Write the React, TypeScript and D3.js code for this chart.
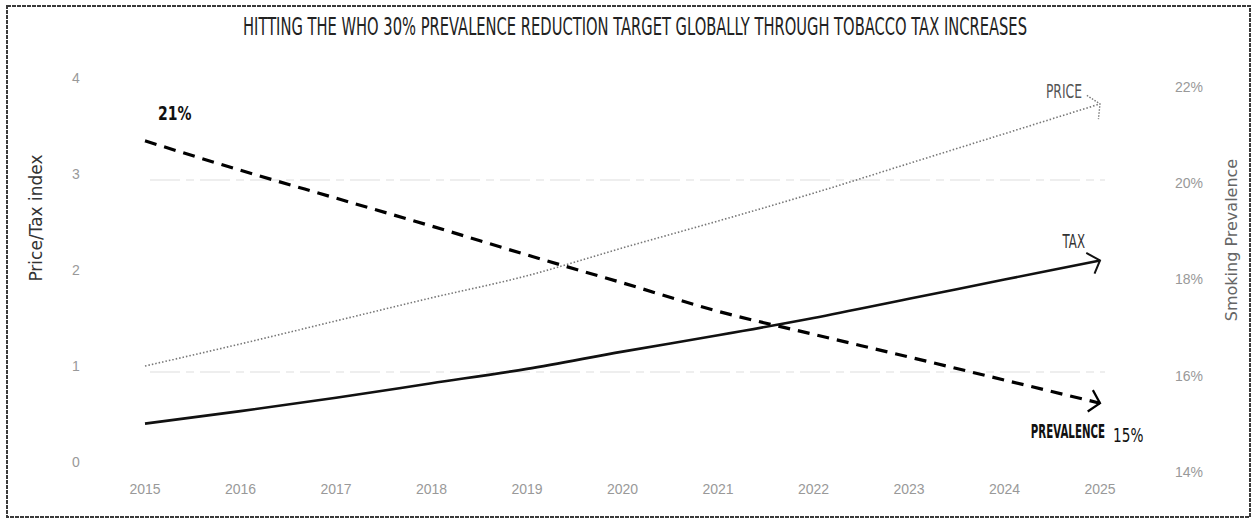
import * as d3 from "d3";
import * as React from "react";

const years = [2015, 2016, 2017, 2018, 2019, 2020, 2021, 2022, 2023, 2024, 2025];
const price = [1.0, 1.23, 1.47, 1.71, 1.94, 2.23, 2.51, 2.8, 3.11, 3.42, 3.73];
const tax = [0.4, 0.53, 0.67, 0.82, 0.97, 1.15, 1.32, 1.5, 1.7, 1.9, 2.1];
const prevalence = [20.88, 20.27, 19.69, 19.11, 18.51, 17.93, 17.34, 16.86, 16.39, 15.91, 15.43];
const leftTicks = [0, 1, 2, 3, 4];
const rightTicks = [14, 16, 18, 20, 22];
const gridTicks = [1, 3];

const title = "HITTING THE WHO 30% PREVALENCE REDUCTION TARGET GLOBALLY THROUGH TOBACCO TAX INCREASES";
const narrow = "'DejaVu Sans', sans-serif";
const plain = "'Liberation Sans', Arial, sans-serif";

// condensed look: no narrow font installed, so squeeze horizontally
function Squeezed(props: { x: number; y: number; sx: number; anchor?: string; size: number; bold?: boolean; fill: string; children: string }) {
  const { x, y, sx, anchor, size, bold, fill, children } = props;
  return (
    <g transform={"translate(" + x + "," + y + ") scale(" + sx + ",1)"}>
      <text x={0} y={0} textAnchor={anchor || "start"} fontFamily={narrow} fontSize={size} fontWeight={bold ? "bold" : "normal"} fill={fill}>{children}</text>
    </g>
  );
}

export default function App() {
  const width = 1254;
  const height = 521;

  const x = d3.scaleLinear().domain([2015, 2025]).range([145, 1100]);
  const yLeft = d3.scaleLinear().domain([0, 4]).range([462, 78]);
  const yRight = d3.scaleLinear().domain([14, 22]).range([472, 87]);

  const lineLeft = d3.line<number>().x((d, i) => x(years[i])).y((d) => yLeft(d)).curve(d3.curveMonotoneX);
  const lineRight = d3.line<number>().x((d, i) => x(years[i])).y((d) => yRight(d)).curve(d3.curveMonotoneX);

  const last = years.length - 1;
  const xEnd = x(years[last]);

  return (
    <svg width={width} height={height} style={{ position: "absolute", left: 0, top: 0, background: "#fff" }}>
      <defs>
        <marker id="arrowBlack" viewBox="-14 -14 16 28" markerWidth={16} markerHeight={28} markerUnits="userSpaceOnUse" refX={0} refY={0} orient="auto">
          <path d="M-10,-11 L0,0 L-10,11" fill="none" stroke="#000" strokeWidth={2.2} />
        </marker>
        <marker id="arrowTax" viewBox="-14 -14 16 28" markerWidth={16} markerHeight={28} markerUnits="userSpaceOnUse" refX={0} refY={0} orient="auto">
          <path d="M-12,-10 L0,0 L-8,12" fill="none" stroke="#111" strokeWidth={2} />
        </marker>
        <marker id="arrowGray" viewBox="-14 -16 16 32" markerWidth={16} markerHeight={32} markerUnits="userSpaceOnUse" refX={0} refY={0} orient="auto">
          <path d="M-10,-12 L0,0 L-6,14" fill="none" stroke="#777" strokeWidth={1.4} strokeDasharray="1.5,1.5" />
        </marker>
      </defs>

      {/* frame */}
      <rect x={7} y={6} width={1243} height={511} fill="none" stroke="#3a3a3a" strokeWidth={2} strokeDasharray="4,1" />

      {/* title */}
      <Squeezed x={635} y={35} sx={0.588} anchor="middle" size={25} fill="#222">{title}</Squeezed>

      {/* gridlines */}
      {gridTicks.map((t) => (
        <line key={"g" + t} x1={150} x2={1105} y1={yLeft(t) + 6} y2={yLeft(t) + 6} stroke="#eeeeee" strokeWidth={2} strokeDasharray="30,6,8,6" />
      ))}

      {/* left axis */}
      {leftTicks.map((t) => (
        <text key={"l" + t} x={76} y={yLeft(t)} dy="0.35em" textAnchor="middle" fontFamily={plain} fontSize={14} fill="#999">{t}</text>
      ))}
      <text transform="translate(42,218) rotate(-90)" textAnchor="middle" fontFamily={narrow} fontSize={17} fill="#333">Price/Tax index</text>

      {/* right axis */}
      {rightTicks.map((t) => (
        <text key={"r" + t} x={1189} y={yRight(t)} dy="0.35em" textAnchor="middle" fontFamily={plain} fontSize={14} fill="#999">{t + "%"}</text>
      ))}
      <text transform="translate(1237,240) rotate(-90)" textAnchor="middle" fontFamily={narrow} fontSize={16} fill="#666">Smoking Prevalence</text>

      {/* x axis */}
      {years.map((yr) => (
        <text key={"x" + yr} x={x(yr)} y={489} dy="0.35em" textAnchor="middle" fontFamily={plain} fontSize={14} fill="#999">{yr}</text>
      ))}

      {/* series */}
      <path d={lineLeft(price) as string} fill="none" stroke="#777" strokeWidth={1.6} strokeDasharray="1.5,2" markerEnd="url(#arrowGray)" />
      <path d={lineLeft(tax) as string} fill="none" stroke="#111" strokeWidth={2.6} markerEnd="url(#arrowTax)" />
      <path d={lineRight(prevalence) as string} fill="none" stroke="#000" strokeWidth={3.2} strokeDasharray="12,8" markerEnd="url(#arrowBlack)" />

      {/* labels */}
      <Squeezed x={x(years[0]) + 13} y={yRight(prevalence[0]) - 21} sx={0.7} size={20} bold fill="#111">21%</Squeezed>
      <Squeezed x={xEnd - 18} y={yLeft(price[last]) - 6} sx={0.65} anchor="end" size={19} fill="#555">PRICE</Squeezed>
      <Squeezed x={xEnd - 15} y={yLeft(tax[last]) - 12} sx={0.62} anchor="end" size={19} fill="#333">TAX</Squeezed>
      <Squeezed x={xEnd + 5} y={yRight(prevalence[last]) + 35} sx={0.54} anchor="end" size={19} bold fill="#111">PREVALENCE</Squeezed>
      <Squeezed x={xEnd + 13} y={yRight(prevalence[last]) + 39} sx={0.72} size={19} fill="#111">15%</Squeezed>
    </svg>
  );
}
